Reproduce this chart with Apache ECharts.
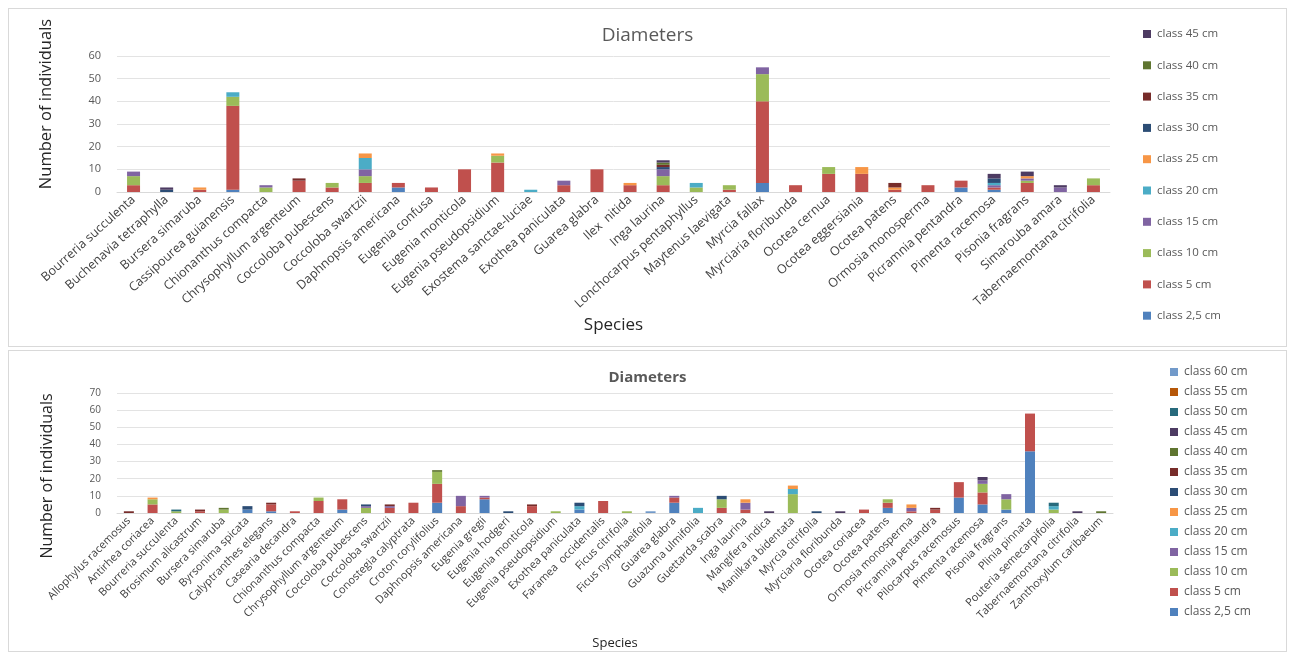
<!DOCTYPE html>
<html>
<head>
<meta charset="utf-8">
<script src="https://cdn.jsdelivr.net/npm/echarts@6/dist/echarts.min.js"></script>
<style>
  html, body { margin: 0; padding: 0; background: #fff; }
  body { width: 1295px; height: 654px; position: relative; overflow: hidden; }
  .panel { position: absolute; left: 8px; width: 1279px; border: 1px solid #d9d9d9; box-sizing: border-box; background: #fff; }
  #top { top: 8px; height: 339px; }
  #bottom { top: 350px; height: 302px; }
</style>
</head>
<body>
<div id="top" class="panel"></div>
<div id="bottom" class="panel"></div>
<script>
// ---- top chart data ----
const topSpecies = ['Bourreria succulenta', 'Buchenavia tetraphylla', 'Bursera simaruba', 'Cassipourea guianensis',
  'Chionanthus compacta', 'Chrysophyllum argenteum', 'Coccoloba pubescens', 'Coccoloba swartzii', 'Daphnopsis americana',
  'Eugenia confusa', 'Eugenia monticola', 'Eugenia pseudopsidium', 'Exostema sanctae-luciae', 'Exothea paniculata',
  'Guarea glabra', 'Ilex  nitida', 'Inga laurina', 'Lonchocarpus pentaphyllus', 'Maytenus laevigata', 'Myrcia fallax',
  'Myrciaria floribunda', 'Ocotea cernua', 'Ocotea eggersiania', 'Ocotea patens', 'Ormosia monosperma',
  'Picramnia pentandra', 'Pimenta racemosa', 'Pisonia fragrans', 'Simarouba amara', 'Tabernaemontana citrifolia'];
const topYTicks = [0, 10, 20, 30, 40, 50, 60];
const top2_5 = [0,0,0,1,0,0,0,0,2,0,0,0,0,0,0,0,0,0,0,4,0,0,0,0,0,2,1,0,0,0];
const top5   = [3,0,1,37,0,5,2,4,2,2,10,13,0,3,10,3,3,0,1,36,3,8,8,1,3,3,1,4,0,3];
const top10  = [4,0,0,4,2,0,2,3,0,0,0,3,0,0,0,0,4,2,2,12,0,3,0,0,0,0,0,1,0,3];
const top15  = [2,0,0,0,1,0,0,3,0,0,0,0,0,2,0,0,3,0,0,3,0,0,0,0,0,0,1,1,2,0];
const top20  = [0,0,0,2,0,0,0,5,0,0,0,0,1,0,0,0,0,2,0,0,0,0,0,0,0,0,1,0,0,0];
const top25  = [0,0,1,0,0,0,0,2,0,0,0,1,0,0,0,1,0,0,0,0,0,0,3,1,0,0,0,1,0,0];
const top30  = [0,1,0,0,0,0,0,0,0,0,0,0,0,0,0,0,1,0,0,0,0,0,0,0,0,0,2,0,0,0];
const top35  = [0,0,0,0,0,1,0,0,0,0,0,0,0,0,0,0,1,0,0,0,0,0,0,2,0,0,0,0,0,0];
const top40  = [0,0,0,0,0,0,0,0,0,0,0,0,0,0,0,0,1,0,0,0,0,0,0,0,0,0,0,0,0,0];
const top45  = [0,1,0,0,0,0,0,0,0,0,0,0,0,0,0,0,1,0,0,0,0,0,0,0,0,0,2,2,1,0];

// ---- bottom chart data ----
const botSpecies = ['Allophylus racemosus', 'Antirhea coriacea', 'Bourreria succulenta', 'Brosimum alicastrum',
  'Bursera simaruba', 'Byrsonima spicata', 'Calyptranthes elegans', 'Casearia decandra', 'Chionanthus compacta',
  'Chrysophyllum argenteum', 'Coccoloba pubescens', 'Coccoloba swartzii', 'Conostegia calyptrata', 'Croton corylifolius',
  'Daphnopsis americana', 'Eugenia gregii', 'Eugenia hodgeri', 'Eugenia monticola', 'Eugenia pseudopsidium',
  'Exothea paniculata', 'Faramea  occidentalis', 'Ficus citrifolia', 'Ficus nymphaeifolia', 'Guarea glabra',
  'Guazuma ulmifolia', 'Guettarda scabra', 'Inga laurina', 'Mangifera indica', 'Manilkara bidentata',
  'Myrcia citrifolia', 'Myrciaria floribunda', 'Ocotea coriacea', 'Ocotea patens', 'Ormosia monosperma',
  'Picramnia pentandra', 'Pilocarpus racemosus', 'Pimenta racemosa', 'Pisonia fragrans', 'Plinia pinnata',
  'Pouteria semecarpifolia', 'Tabernaemontana citrifolia', 'Zanthoxylum caribaeum'];
const botYTicks = [0, 10, 20, 30, 40, 50, 60, 70];
const bot2_5 = [0,0,0,0,0,2,1,0,0,2, 0,0,0,6,0,8,0,0,0,2, 0,0,0,6,0,0,0,0,0,0, 0,0,3,0,0,9,5,2,36,0, 0,0];
const bot5   = [0,5,0,1,0,0,4,1,7,6, 0,3,6,11,4,1,0,4,0,0, 7,0,0,3,0,3,2,0,0,0, 0,2,3,1,2,9,7,0,22,0, 0,0];
const bot10  = [0,3,1,0,2,0,0,0,2,0, 3,0,0,7,0,0,0,0,1,0, 0,1,0,0,0,5,0,0,11,0, 0,0,2,0,0,0,5,6,0,2, 0,0];
const bot15  = [0,0,0,0,0,0,0,0,0,0, 1,1,0,0,6,1,0,0,0,0, 0,0,0,1,0,0,4,0,0,0, 0,0,0,2,0,0,2,3,0,0, 0,0];
const bot20  = [0,0,0,0,0,0,0,0,0,0, 0,0,0,0,0,0,0,0,0,2, 0,0,0,0,3,0,0,0,3,0, 0,0,0,0,0,0,0,0,0,2, 0,0];
const bot25  = [0,1,0,0,0,0,0,0,0,0, 0,0,0,0,0,0,0,0,0,0, 0,0,0,0,0,0,2,0,2,0, 0,0,0,2,0,0,0,0,0,0, 0,0];
const bot30  = [0,0,0,0,0,2,0,0,0,0, 1,0,0,0,0,0,1,0,0,2, 0,0,0,0,0,2,0,0,0,1, 0,0,0,0,0,0,0,0,0,0, 0,0];
const bot35  = [1,0,0,1,0,0,1,0,0,0, 0,1,0,0,0,0,0,1,0,0, 0,0,0,0,0,0,0,0,0,0, 0,0,0,0,1,0,0,0,0,0, 0,0];
const bot40  = [0,0,0,0,1,0,0,0,0,0, 0,0,0,1,0,0,0,0,0,0, 0,0,0,0,0,0,0,0,0,0, 0,0,0,0,0,0,0,0,0,0, 0,1];
const bot45  = [0,0,0,0,0,0,0,0,0,0, 0,0,0,0,0,0,0,0,0,0, 0,0,0,0,0,0,0,1,0,0, 1,0,0,0,0,0,2,0,0,0, 1,0];
const bot50  = [0,0,1,0,0,0,0,0,0,0, 0,0,0,0,0,0,0,0,0,0, 0,0,0,0,0,0,0,0,0,0, 0,0,0,0,0,0,0,0,0,2, 0,0];
const bot55  = [0,0,0,0,0,0,0,0,0,0, 0,0,0,0,0,0,0,0,0,0, 0,0,0,0,0,0,0,0,0,0, 0,0,0,0,0,0,0,0,0,0, 0,0];
const bot60  = [0,0,0,0,0,0,0,0,0,0, 0,0,0,0,0,0,0,0,0,0, 0,0,1,0,0,0,0,0,0,0, 0,0,0,0,0,0,0,0,0,0, 0,0];

const classNames = ['class 2,5 cm', 'class 5 cm', 'class 10 cm', 'class 15 cm', 'class 20 cm', 'class 25 cm',
  'class 30 cm', 'class 35 cm', 'class 40 cm', 'class 45 cm', 'class 50 cm', 'class 55 cm', 'class 60 cm'];
const classColors = ['#4F81BD', '#C0504D', '#9BBB59', '#8064A2', '#4BACC6', '#F79646',
  '#2C4D75', '#772C2A', '#5F7530', '#4D3B62', '#276A7C', '#B65708', '#729ACA'];

const FONT = '"Open Sans", "Liberation Sans", sans-serif';
const gray = '#595959';

function buildOption(cfg) {
  const n = cfg.values.length;
  const names = classNames.slice(0, n);
  const series = cfg.values.map((vals, i) => ({
    name: names[i],
    type: 'bar',
    stack: 'total',
    data: vals,
    barWidth: cfg.barWidth,
    itemStyle: { color: classColors[i] },
  }));
  const yMax = cfg.yTicks[cfg.yTicks.length - 1];
  return {
    animation: false,
    textStyle: { fontFamily: FONT },
    title: {
      text: 'Diameters',
      left: 'center',
      top: cfg.titleTop,
      textStyle: { color: gray, fontSize: cfg.titleSize, fontWeight: cfg.titleWeight, fontFamily: FONT },
    },
    legend: {
      orient: 'vertical',
      left: cfg.legendLeft,
      top: cfg.legendTop,
      data: names.slice().reverse(),
      itemWidth: 8,
      itemHeight: 8,
      itemGap: cfg.legendGap,
      icon: 'rect',
      textStyle: { color: gray, fontSize: cfg.legendSize, fontFamily: FONT, padding: [0, 0, 0, 1] },
    },
    grid: cfg.grid,
    xAxis: {
      type: 'category',
      data: cfg.species,
      name: 'Species',
      nameLocation: 'middle',
      nameGap: cfg.xNameGap,
      nameTextStyle: { color: '#262626', fontSize: cfg.xNameSize, fontFamily: FONT },
      axisLine: { lineStyle: { color: '#d9d9d9' } },
      axisTick: { show: false },
      axisLabel: { interval: 0, rotate: cfg.rotate, color: '#404040', fontSize: cfg.labelSize, margin: 6, fontFamily: FONT },
    },
    yAxis: {
      type: 'value',
      min: 0,
      max: yMax,
      interval: 10,
      name: 'Number of individuals',
      nameLocation: 'middle',
      nameRotate: 90,
      nameGap: cfg.yNameGap,
      nameTextStyle: { color: '#262626', fontSize: cfg.yNameSize, fontFamily: FONT, padding: cfg.yNamePad },
      axisLine: { show: false },
      axisTick: { show: false },
      splitLine: { lineStyle: { color: '#e3e3e3' } },
      axisLabel: { color: gray, fontSize: cfg.yLabelSize, margin: 16, fontFamily: FONT },
    },
    series: series,
  };
}

const topChart = echarts.init(document.getElementById('top'));
topChart.setOption(buildOption({
  species: topSpecies,
  yTicks: topYTicks,
  values: [top2_5, top5, top10, top15, top20, top25, top30, top35, top40, top45],
  barWidth: 13,
  grid: { left: 108, top: 47, width: 993, height: 136 },
  titleTop: 12, titleSize: 19, titleWeight: 'normal',
  legendLeft: 1129, legendTop: 14, legendGap: 19.3, legendSize: 11.5,
  rotate: 42, labelSize: 12.5,
  xNameGap: 125, xNameSize: 17,
  yNameGap: 62, yNameSize: 16.5, yNamePad: [0, 0, 0, 40], yLabelSize: 11,
}));

const botChart = echarts.init(document.getElementById('bottom'));
botChart.setOption(buildOption({
  species: botSpecies,
  yTicks: botYTicks,
  values: [bot2_5, bot5, bot10, bot15, bot20, bot25, bot30, bot35, bot40, bot45, bot50, bot55, bot60],
  barWidth: 10,
  grid: { left: 108, top: 42, width: 996, height: 125 },
  titleTop: 14, titleSize: 15, titleWeight: 'bold',
  legendLeft: 1156, legendTop: 10, legendGap: 8, legendSize: 12,
  rotate: 45, labelSize: 11,
  xNameGap: 124, xNameSize: 13,
  yNameGap: 62, yNameSize: 16, yNamePad: [0, 46, 0, 0], yLabelSize: 10,
}));
</script>
</body>
</html>
